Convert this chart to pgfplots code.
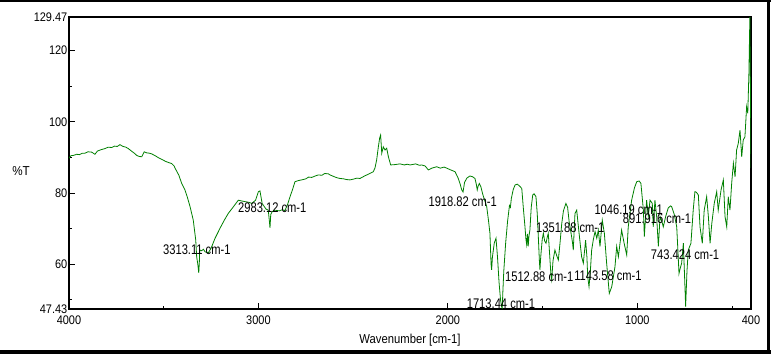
\documentclass[border=0pt]{standalone}
\usepackage{pgfplots}
\pgfplotsset{compat=1.18}
\usepackage{fontspec}
\setmainfont{Liberation Sans}
\usepackage{graphicx}
\definecolor{irgreen}{RGB}{0,128,0}
\newcommand{\lab}[1]{\scalebox{0.8}[1]{#1}}
\newcommand{\tl}[1]{\scalebox{0.88}[1]{#1}}
\begin{document}
\begin{tikzpicture}
\useasboundingbox (0,0) rectangle (771bp,354bp);
\fill[white] (0,0) rectangle (771bp,354bp);
\begin{axis}[at={(69bp,45bp)}, anchor=south west, width=682bp, height=292bp, scale only axis,
  x dir=reverse, xmin=400, xmax=4000, ymin=47.43, ymax=129.47,
  axis line style={line width=1.2bp},
  tick style={black, line width=0.8bp},
  major tick length=6bp, minor tick length=3bp,
  xtick pos=bottom, ytick pos=left, tick align=inside,
  xtick={400,1000,2000,3000,4000},
  xticklabels={\tl{400},\tl{1000},\tl{2000},\tl{3000},\tl{4000}},
  minor xtick={500,1500,3500},
  ytick={47.43,60,80,100,120,129.47},
  yticklabels={\tl{47.43},\tl{60},\tl{80},\tl{100},\tl{120},\tl{129.47}},
  minor ytick={50,70,90,110},
  ticklabel style={font=\fontsize{12.5}{12.5}\selectfont},
  yticklabel style={inner sep=1.5bp},
  xticklabel style={inner sep=2bp, yshift=-5bp},
]
\addplot[irgreen, line width=0.8bp] table {
4000 89.8
3990 90.5
3975 90.6
3960 90.9
3945 90.8
3930 91.2
3916 91.2
3900 91.6
3880 91.5
3863 90.9
3850 91.8
3830 92.2
3810 92.5
3793 92.9
3775 92.8
3760 93.2
3745 93.1
3731 93.6
3715 93.1
3700 92.9
3687 92.5
3670 91.8
3655 91.2
3643 90.6
3630 90.3
3616 90.2
3603 91.6
3590 91.3
3575 91.2
3563 91.0
3545 90.5
3530 90.0
3511 89.5
3490 88.9
3470 88.5
3458 88.3
3445 87.6
3440 87.0
3420 85.0
3405 82.7
3388 80.9
3375 78.8
3361 76.2
3344 72.4
3331 66.8
3326 62.1
3320 60.0
3315 57.6
3312 60.5
3310 64.0
3300 63.8
3290 64.2
3282 63.5
3265 63.2
3250 64.5
3229 67.3
3200 70.4
3180 72.4
3159 74.3
3130 76.3
3106 78.0
3090 77.8
3071 77.6
3050 77.4
3035 77.1
3015 78.0
3000 80.4
2992 80.6
2980 77.0
2974 76.6
2960 75.5
2948 75.2
2942 72.0
2939 70.2
2935 74.0
2927 74.8
2913 75.2
2890 75.0
2875 75.3
2860 75.1
2845 77.0
2833 79.0
2820 81.0
2807 83.2
2790 83.5
2772 83.7
2750 84.0
2735 84.5
2719 84.4
2700 84.8
2684 85.1
2665 85.0
2650 85.5
2631 85.4
2622 85.1
2600 84.6
2585 84.3
2569 84.1
2550 84.0
2535 83.8
2517 83.7
2500 83.9
2480 84.2
2464 84.1
2440 84.8
2420 85.3
2394 86.0
2385 87.0
2376 89.3
2367 93.0
2360 95.5
2355 96.3
2349 91.2
2341 93.0
2332 92.1
2323 92.6
2314 90.2
2302 87.9
2280 88.0
2253 88.2
2230 87.9
2215 88.1
2200 87.9
2170 88.2
2150 87.8
2138 87.9
2120 87.6
2103 86.5
2085 87.0
2059 87.4
2040 87.0
2020 87.3
2006 87.0
1985 86.5
1962 86.0
1945 84.1
1935 82.5
1927 80.9
1920 80.3
1912 83.0
1900 84.2
1884 84.8
1870 84.6
1857 84.1
1850 82.5
1845 80.9
1840 82.0
1834 82.7
1826 81.8
1815 79.5
1805 77.8
1795 76.2
1785 72.0
1778 68.7
1772 60.0
1769 58.4
1765 62.0
1755 66.0
1746 67.3
1738 62.0
1730 55.0
1722 50.0
1716 48.0
1713 47.6
1710 52.0
1705 58.0
1695 66.0
1685 72.0
1675 76.5
1670 76.0
1665 78.5
1655 81.0
1645 82.3
1634 82.5
1622 82.0
1610 81.3
1602 76.0
1593 70.5
1588 67.0
1584 65.5
1580 68.5
1576 65.0
1572 68.0
1567 69.6
1560 76.0
1552 79.5
1545 79.8
1535 79.0
1528 74.0
1522 67.0
1517 61.0
1514 58.4
1510 62.0
1502 67.0
1496 68.7
1489 66.5
1482 65.9
1476 67.5
1470 68.7
1462 62.0
1456 57.0
1452 55.6
1445 61.0
1435 64.0
1426 62.5
1417 61.2
1408 66.0
1399 71.4
1390 75.0
1377 77.1
1368 76.0
1360 72.0
1347 67.8
1342 66.0
1338 64.0
1333 70.0
1329 74.3
1320 75.2
1310 70.0
1300 65.0
1294 62.1
1285 60.3
1273 66.8
1266 62.0
1262 56.5
1255 53.7
1248 58.0
1241 64.0
1232 67.0
1223 69.2
1214 67.3
1206 69.6
1197 65.0
1185 72.4
1174 68.7
1162 60.3
1148 51.8
1135 53.7
1118 59.3
1109 65.0
1100 62.1
1083 69.6
1070 66.0
1056 62.6
1048 70.5
1030 78.0
1015 81.5
1003 83.2
990 83.4
981 82.7
968 75.2
963 67.8
951 78.0
942 73.4
933 78.0
921 77.1
916 70.5
907 78.0
898 73.4
889 65.0
880 73.4
870 72.0
863 70.5
850 73.5
837 75.8
825 76.4
819 76.2
805 74.0
792 70.5
785 63.0
780 57.4
773 59.0
766 60.3
757 65.9
748 52.8
745 48.1
738 58.0
731 64.0
717 65.9
705 75.2
696 80.4
688 80.2
678 79.5
669 70.5
657 65.9
647 75.2
634 79.0
625 73.4
616 65.9
607 71.4
594 77.1
581 80.4
573 75.2
558 80.9
546 83.7
537 73.4
528 70.5
520 79.0
511 75.2
502 82.7
493 88.4
484 84.6
476 92.1
467 94.0
458 97.7
449 90.2
441 94.9
432 95.8
423 104.3
417 102.4
411 113.6
406 129.4
403 110.0
401 95.0
400 87.0
};
\node[anchor=west, inner sep=0pt, font=\fontsize{14}{14}\selectfont] at (axis cs:3504,64.0) {\lab{3313.11 cm-1}};
\node[anchor=west, inner sep=0pt, font=\fontsize{14}{14}\selectfont] at (axis cs:3108,76.0) {\lab{2983.12 cm-1}};
\node[anchor=west, inner sep=0pt, font=\fontsize{14}{14}\selectfont] at (axis cs:2103,77.6) {\lab{1918.82 cm-1}};
\node[anchor=west, inner sep=0pt, font=\fontsize{14}{14}\selectfont] at (axis cs:1901,48.8) {\lab{1713.44 cm-1}};
\node[anchor=west, inner sep=0pt, font=\fontsize{14}{14}\selectfont] at (axis cs:1699,56.5) {\lab{1512.88 cm-1}};
\node[anchor=west, inner sep=0pt, font=\fontsize{14}{14}\selectfont] at (axis cs:1334,56.9) {\lab{1143.58 cm-1}};
\node[anchor=west, inner sep=0pt, font=\fontsize{14}{14}\selectfont] at (axis cs:1535,70.4) {\lab{1351.88 cm-1}};
\node[anchor=west, inner sep=0pt, font=\fontsize{14}{14}\selectfont] at (axis cs:1227,75.4) {\lab{1046.19 cm-1}};
\node[anchor=west, inner sep=0pt, font=\fontsize{14}{14}\selectfont] at (axis cs:1077,72.7) {\lab{891.916 cm-1}};
\node[anchor=west, inner sep=0pt, font=\fontsize{14}{14}\selectfont] at (axis cs:929,62.8) {\lab{743.424 cm-1}};
\end{axis}
\node[font=\fontsize{13}{13}\selectfont, inner sep=0pt] at (410bp,14bp) {\scalebox{0.87}[1]{Wavenumber [cm-1]}};
\node[font=\fontsize{13}{13}\selectfont, inner sep=0pt] at (21bp,183bp) {\scalebox{0.9}[1]{\%T}};
\fill[black] (0,352bp) rectangle (771bp,354bp);
\fill[black] (767bp,0) rectangle (770bp,354bp);
\fill[black] (0,0) rectangle (771bp,3.5bp);
\end{tikzpicture}
\end{document}
